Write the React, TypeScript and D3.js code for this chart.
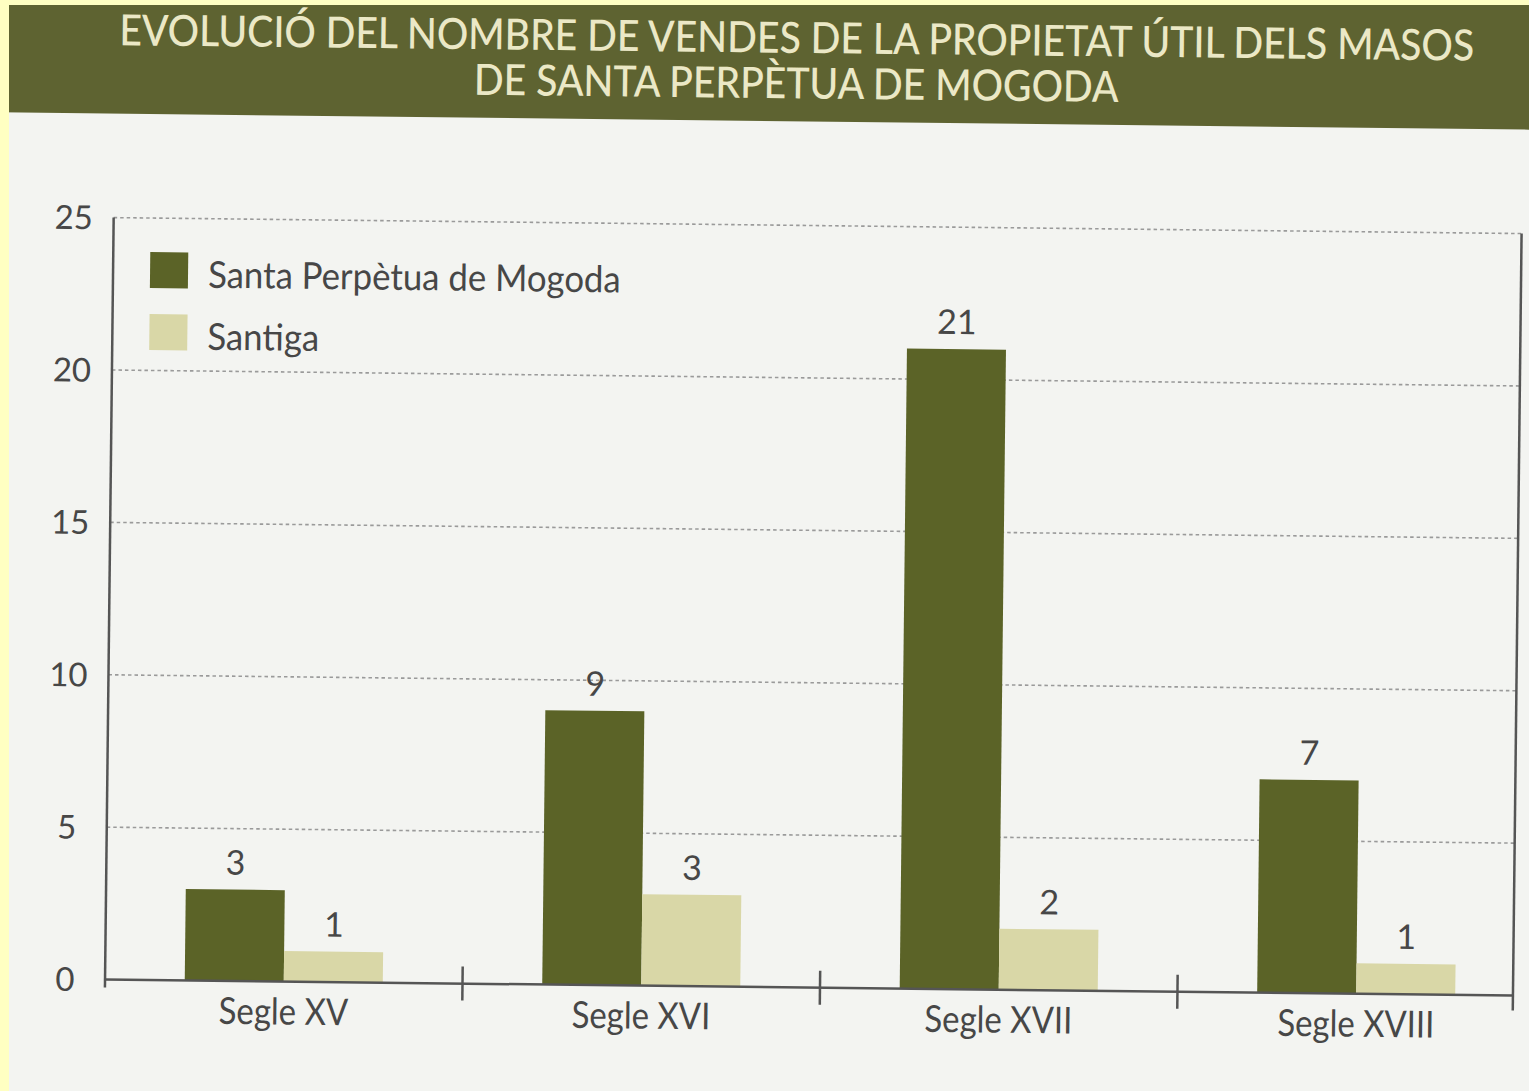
import React from "react";
import * as d3 from "d3";

const titleLines = [
  "EVOLUCIÓ DEL NOMBRE DE VENDES DE LA PROPIETAT ÚTIL DELS MASOS",
  "DE SANTA PERPÈTUA DE MOGODA",
];
const categories = ["Segle XV", "Segle XVI", "Segle XVII", "Segle XVIII"];
const seriesNames = ["Santa Perpètua de Mogoda", "Santiga"];
const santaPerpetua = [3, 9, 21, 7];
const santiga = [1, 3, 2, 1];
const yTicks = [0, 5, 10, 15, 20, 25];

const W = 1529;
const H = 1091;
const DARK = "#5b6327";
const LIGHT = "#d9d7a7";
const BANNER = "#5e6331";
const CREAM = "#ebe8c6";
const TEXT = "#474747";
const AXIS = "#555555";
const FONT = "Lato, 'Open Sans', sans-serif";

export default function App() {
  const left = 110;
  const right = 1518;
  const y = d3.scaleLinear().domain([0, 25]).range([987, 225]);
  const x0 = d3
    .scaleBand<string>()
    .domain(categories)
    .range([110, 1540])
    .paddingInner(0.446)
    .paddingOuter(0.223);
  const x1 = d3
    .scaleBand<string>()
    .domain(seriesNames)
    .range([0, x0.bandwidth()]);
  const color = d3.scaleOrdinal<string, string>().domain(seriesNames).range([DARK, LIGHT]);
  const seriesValues = [santaPerpetua, santiga];
  const step = x0.step();
  const boundaries = categories.slice(1).map((c) => (x0(c) as number) - step * 0.223);

  return (
    <svg
      width={W}
      height={H}
      style={{ position: "fixed", left: 0, top: 0, display: "block" }}
      fontFamily={FONT}
    >
      <rect x={0} y={0} width={W} height={H} fill="#f3f4f1" />
      <g transform="rotate(0.65 764 545)">
        <rect x={-60} y={-40} width={W + 120} height={161} fill={BANNER} />
        {titleLines.map((t, i) => (
          <text
            key={i}
            transform={`translate(791,${i === 0 ? 52.5 : 98}) scale(0.91,1)`}
            textAnchor="middle"
            fill={CREAM}
            fontSize={43}
            fontWeight={500}
          >
            {t}
          </text>
        ))}

        {/* grid lines */}
        {yTicks
          .filter((t) => t > 0)
          .map((t) => (
            <line
              key={t}
              x1={left}
              x2={right}
              y1={y(t)}
              y2={y(t)}
              stroke="#9a9a9a"
              strokeWidth={1.6}
              strokeDasharray="3.5,3"
            />
          ))}

        {/* y labels */}
        {yTicks.map((t) => (
          <text
            key={t}
            x={70}
            y={y(t)}
            dy="0.36em"
            textAnchor="middle"
            fill={TEXT}
            fontSize={33}
          >
            {t}
          </text>
        ))}

        {/* bars */}
        {categories.map((c, ci) => (
          <g key={c} transform={`translate(${x0(c)},0)`}>
            {seriesNames.map((s, si) => {
              const v = seriesValues[si][ci];
              const bx = x1(s) as number;
              return (
                <g key={s}>
                  <rect
                    x={bx}
                    y={y(v)}
                    width={x1.bandwidth()}
                    height={y(0) - y(v)}
                    fill={color(s)}
                  />
                  <text
                    x={bx + x1.bandwidth() / 2}
                    y={y(v) - 15}
                    textAnchor="middle"
                    fill={TEXT}
                    fontSize={34}
                  >
                    {v}
                  </text>
                </g>
              );
            })}
          </g>
        ))}

        {/* axes */}
        <line x1={left} x2={left} y1={y(25)} y2={995} stroke={AXIS} strokeWidth={2.5} />
        <line x1={left} x2={right} y1={y(0)} y2={y(0)} stroke={AXIS} strokeWidth={2.5} />
        <line x1={right} x2={right} y1={y(25)} y2={1002} stroke={AXIS} strokeWidth={2.5} />
        {boundaries.map((b, i) => (
          <line key={i} x1={b} x2={b} y1={y(0) - 17} y2={y(0) + 17} stroke={AXIS} strokeWidth={2.5} />
        ))}

        {/* category labels */}
        {categories.map((c) => (
          <text
            key={c}
            transform={`translate(${(x0(c) as number) + x0.bandwidth() / 2},1030) scale(0.89,1)`}
            textAnchor="middle"
            fill={TEXT}
            fontSize={37}
          >
            {c}
          </text>
        ))}

        {/* legend */}
        {seriesNames.map((s, i) => (
          <g key={s} transform={`translate(147,${259 + i * 62})`}>
            <rect x={0} y={0} width={38} height={36} fill={color(s)} />
            <text transform="translate(58,35) scale(0.94,1)" fill={TEXT} fontSize={37}>
              {s}
            </text>
          </g>
        ))}
      </g>
      {/* scan border */}
      <rect x={0} y={0} width={W} height={5} fill="#ffffc2" />
      <rect x={0} y={0} width={9} height={H} fill="#ffffc2" />
    </svg>
  );
}
